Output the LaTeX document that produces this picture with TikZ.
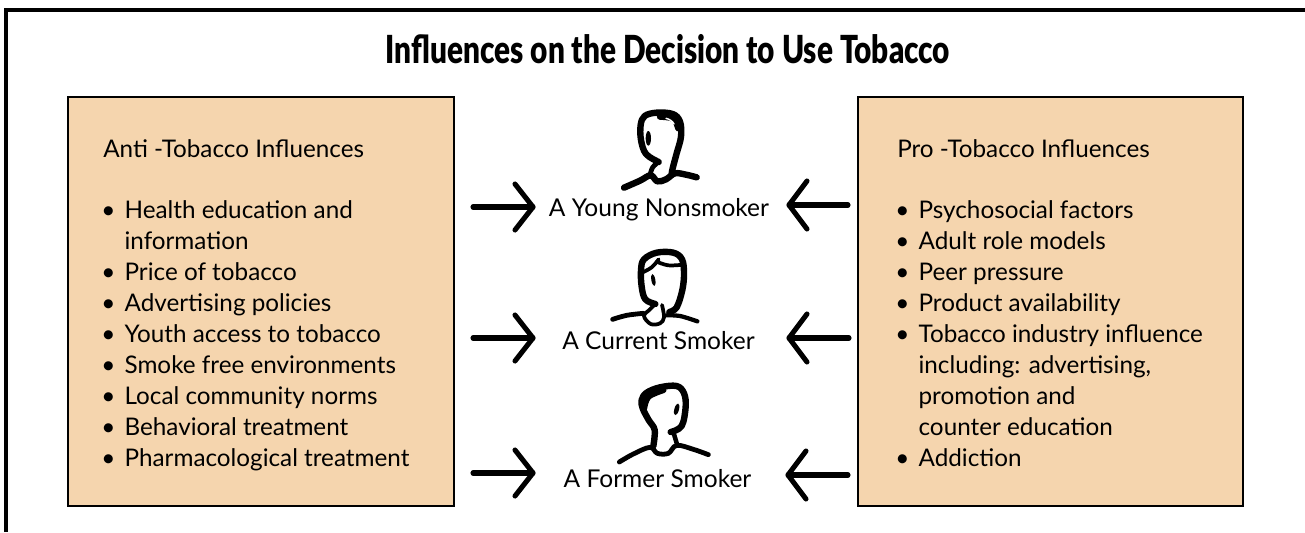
\documentclass[tikz,border=0pt]{standalone}
\usepackage{fontspec}
\setmainfont{Lato}
\newfontfamily\titlefont{Lato Black}[FakeStretch=0.77]
\definecolor{boxfill}{HTML}{F5D5AE}
\newcommand{\bul}{\makebox[17.5pt][l]{\textbullet}}
\newcommand{\ind}{\hspace*{17.5pt}}
\tikzset{
 frameline/.style={draw=black,line width=2.3pt},
 panel/.style={draw=black,line width=1.5pt,fill=boxfill,inner sep=0pt},
 panelhead/.style={anchor=base west,font=\fontsize{18.2pt}{22pt}\selectfont,inner sep=0pt},
 listtext/.style={anchor=north west,font=\fontsize{18.2pt}{23.2pt}\selectfont,inner sep=0pt,align=left},
 who/.style={anchor=base,font=\fontsize{18.4pt}{22pt}\selectfont,inner sep=0pt},
 flow/.style={line width=3.8pt,line cap=round,line join=round},
 ink/.style={line width=4.8pt,line cap=round,line join=round},
 inkthin/.style={line width=2.8pt,line cap=round,line join=round},
}
\begin{document}
\begin{tikzpicture}[x=0.75pt,y=-0.75pt]
\useasboundingbox (0,0) rectangle (1305,532);
\coordinate (fa) at (6,532); \coordinate (fb) at (6,10); \coordinate (fc) at (1305,10);
\draw[frameline] (fa) -- (fb) -- (fc);
\node[anchor=base,inner sep=0pt,font=\fontsize{29pt}{32pt}\titlefont] (title) at (668,63) {Influences on the Decision to Use Tobacco};
\node[panel,minimum width=0.75*386pt,minimum height=0.75*409pt] (left) at (261,301.5) {};
\node[panel,minimum width=0.75*385pt,minimum height=0.75*409pt] (right) at (1050.5,301.5) {};
\node[panelhead] (lh) at (103,157) {Anti -Tobacco Influences};
\node[listtext] (ll) at (101,200.5) {\bul Health education and\\\ind information\\\bul Price of tobacco\\\bul Advertising policies\\\bul Youth access to tobacco\\\bul Smoke free environments\\\bul Local community norms\\\bul Behavioral treatment\\\bul Pharmacological treatment};
\node[panelhead] (rh) at (897,157) {Pro -Tobacco Influences};
\node[listtext] (rl) at (895,200.5) {\bul Psychosocial factors\\\bul Adult role models\\\bul Peer pressure\\\bul Product availability\\\bul Tobacco industry influence\\\ind including: advertising,\\\ind promotion and\\\ind counter education\\\bul Addiction};
\node[who] (a) at (659,216) {A Young Nonsmoker};
\node[who] (b) at (658.5,349) {A Current Smoker};
\node[who] (c) at (657.5,487) {A Former Smoker};
% arrows
\coordinate (la1) at (473,207); \coordinate (la1t) at (533,207);
\coordinate (la2) at (473,338); \coordinate (la2t) at (533,338);
\coordinate (la3) at (473,473); \coordinate (la3t) at (533,473);
\coordinate (ra1) at (848,205); \coordinate (ra1t) at (789,205);
\coordinate (ra2) at (849,338); \coordinate (ra2t) at (789,338);
\coordinate (ra3) at (848,475); \coordinate (ra3t) at (788,475);
\foreach \s/\t in {la1/la1t,la2/la2t,la3/la3t}{
 \draw[flow] (\s) -- (\t);
 \draw[flow] ([shift={(-18,-23)}]\t) -- (\t) -- ([shift={(-18,23)}]\t);
}
\foreach \s/\t in {ra1/ra1t,ra2/ra2t,ra3/ra3t}{
 \draw[flow] (\s) -- (\t);
 \draw[flow] ([shift={(18,-24)}]\t) -- (\t) -- ([shift={(18,24)}]\t);
}
% person 1
\begin{scope}[shift={(560,90)},x=0.25pt,y=-0.25pt]
 \draw[ink] plot[smooth,tension=.6] coordinates {(296,216) (258,192) (243,150) (242,105) (254,78) (290,68) (338,72) (360,95) (363,140) (350,190) (338,235) (335,252)};
 \draw[ink] plot[smooth,tension=.6] coordinates {(300,80) (340,86) (355,115)};
 \draw[ink,line width=3.6pt] plot[smooth,tension=.6] coordinates {(296,216) (278,232) (270,256)};
 \draw[ink] plot[smooth,tension=.6] coordinates {(192,293) (240,272) (272,256) (292,274) (318,268) (345,250) (378,254) (410,262)};
 \fill[black] (265,145) ellipse [x radius=8,y radius=22];
 \draw[white,line width=1.1pt,line cap=round] (318,85) .. controls (328,87) and (338,94) .. (342,102);
\end{scope}
% person 2
\begin{scope}[shift={(460,230)},x=0.25pt,y=-0.25pt]
 \draw[ink] plot[smooth,tension=.6] coordinates {(586,222) (556,208) (545,170) (543,120) (552,88) (590,68) (640,68) (666,88) (672,130) (667,180) (650,232) (628,246)};
 \draw[inkthin] plot[smooth,tension=.6] coordinates {(546,128) (575,112) (596,88)};
 \draw[inkthin] plot[smooth,tension=.6] coordinates {(590,95) (625,106) (670,104)};
 \draw[inkthin] plot[smooth,tension=.6] coordinates {(586,222) (570,238) (552,258) (572,282) (600,280) (612,262) (606,225)};
 \draw[ink,line width=3.6pt] plot[smooth,tension=.6] coordinates {(458,268) (500,256) (550,250)};
 \draw[ink,line width=3.2pt] plot[smooth,tension=.6] coordinates {(620,256) (660,258) (712,274)};
 \fill[black,rotate around={10:(580,150)}] (580,150) ellipse [x radius=6,y radius=18];
\end{scope}
% person 3
\begin{scope}[shift={(460,370)},x=0.25pt,y=-0.25pt]
 \draw[ink] plot[smooth,tension=.6] coordinates {(580,228) (584,180) (566,150) (548,115) (545,90) (560,68) (600,52) (650,48) (672,70) (677,110) (665,168) (632,186)};
 \draw[ink] plot[smooth,tension=.6] coordinates {(552,115) (565,80) (610,60)};
 \draw[ink,line width=3.4pt] (640,186) -- (652,226);
 \draw[ink,line width=3.6pt] plot[smooth,tension=.6] coordinates {(478,276) (520,252) (570,232) (592,250) (625,250) (650,226) (700,238) (745,254)};
 \fill[black,rotate around={-15:(650,118)}] (650,118) ellipse [x radius=7,y radius=18];
\end{scope}
\end{tikzpicture}
\end{document}
